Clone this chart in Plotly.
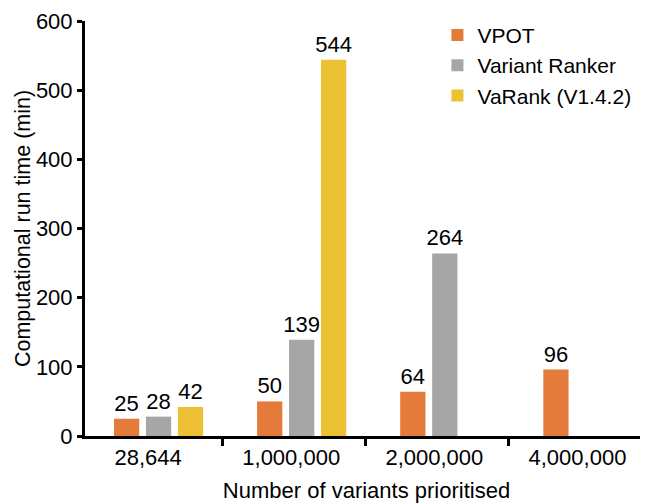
import plotly.graph_objects as go

categories = ["28,644", "1,000,000", "2,000,000", "4,000,000"]
cat_pos = [0, 1, 2, 3]
vpot = [25, 50, 64, 96]
variant_ranker = [28, 139, 264, None]
varank = [42, 544, None, None]

series = [
    ("VPOT", vpot, "#E57B3A"),
    ("Variant Ranker", variant_ranker, "#A6A6A6"),
    ("VaRank (V1.4.2)", varank, "#ECC133"),
]

FONT = "Liberation Sans, Arial, sans-serif"
FS = 22
fig = go.Figure()
for name, vals, col in series:
    fig.add_trace(go.Bar(
        x=cat_pos, y=vals, name=name, marker_color=col,
        marker_line_width=0,
        text=[("" if v is None else str(v)) for v in vals],
        textposition="outside", cliponaxis=False, constraintext="none",
        textfont=dict(family=FONT, size=FS, color="black"),
    ))

label_shift = -0.073
boundary = [i + 0.444 for i in cat_pos[:-1]]

fig.update_layout(
    width=640, height=496,
    margin=dict(l=77, r=0, t=13, b=68, autoexpand=False),
    paper_bgcolor="white", plot_bgcolor="white",
    barmode="group", bargap=0.33, bargroupgap=0.21,
    font=dict(family=FONT, size=FS, color="black"),
    showlegend=True,
    legend=dict(x=0.626, y=1.015, xanchor="left", yanchor="top",
                font=dict(size=21, family=FONT), bgcolor="rgba(0,0,0,0)",
                tracegroupgap=0),
    xaxis=dict(
        range=[-0.514, 3.42], automargin=False,
        tickmode="array", tickvals=[p + label_shift for p in cat_pos], ticktext=categories,
        ticks="", showline=True, linecolor="black", linewidth=3,
        showgrid=False, zeroline=False,
        tickfont=dict(size=FS, family=FONT),
        minor=dict(tickmode="array", tickvals=boundary, ticks="outside",
                   ticklen=7, tickwidth=3, tickcolor="black", showgrid=False),
        title=dict(text="Number of variants prioritised", font=dict(size=FS, family=FONT), standoff=14),
    ),
    yaxis=dict(
        range=[0, 600], tickvals=[0, 100, 200, 300, 400, 500, 600], automargin=False,
        ticks="outside", ticklen=5, tickwidth=3, tickcolor="black",
        showline=True, linecolor="black", linewidth=3,
        showgrid=False, zeroline=False,
        tickfont=dict(size=FS, family=FONT),
        title=dict(text="Computational run time (min)", font=dict(size=21.5, family=FONT), standoff=0),
    ),
)

fig.write_html("out.html")
